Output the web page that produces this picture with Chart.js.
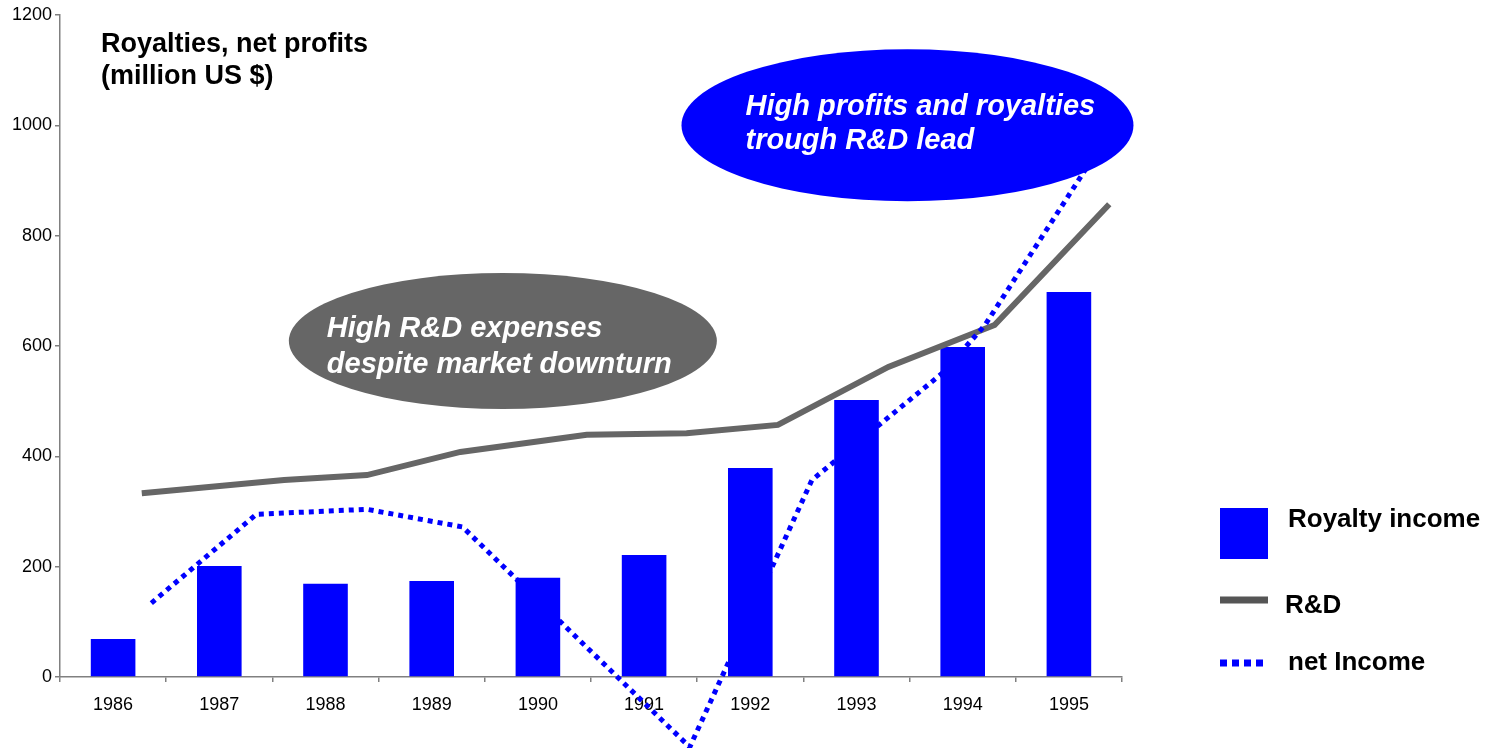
<!DOCTYPE html>
<html>
<head>
<meta charset="utf-8">
<script src="https://cdn.jsdelivr.net/npm/chart.js@4/dist/chart.umd.min.js"></script>
<style>
  html, body { margin: 0; padding: 0; background: #fff; }
  #wrap { width: 1495px; height: 748px; }
</style>
</head>
<body>
<div id="wrap"><canvas id="myChart" width="1495" height="748"></canvas></div>
<script>
const years = ["1986", "1987", "1988", "1989", "1990", "1991", "1992", "1993", "1994", "1995"];
const royaltyIncome = [69, 201, 169, 174, 180, 221, 379, 502, 598, 698];

// the two lines were drawn by hand over the bars, so their points sit between the year slots
const rdYears = [1986.27, 1987.61, 1988.39, 1989.27, 1990.46, 1991.40, 1992.26, 1993.30, 1994.30, 1995.38];
const rdValues = [333, 357, 366, 408, 439, 442, 457, 562, 638, 857];
const netYears = [1986.36, 1987.35, 1988.39, 1989.29, 1991.43, 1992.58, 1993.81, 1994.21, 1995.29];
const netValues = [134, 295, 304, 272, -127, 357, 551, 638, 960];

const yTicks = [0, 200, 400, 600, 800, 1000, 1200];

const FONT = "'Liberation Sans', Arial, sans-serif";

const pairs = (xs, ys) => xs.map((x, i) => ({ x: x, y: ys[i] }));

const overlay = {
    id: "overlay",
    afterDatasetsDraw(chart) {
        const ctx = chart.ctx;
        const xl = chart.scales.xl;
        const y = chart.scales.y;
        const area = chart.chartArea;

        // callouts
        const bubbles = [
            { x: 1989.67, y: 609, rx: 214, ry: 68, color: "#666666", dx: -176,
              lines: ["High R&D expenses", "despite market downturn"], dy: [-4, 32] },
            { x: 1993.48, y: 1000, rx: 226, ry: 76, color: "#0000ff", dx: -162,
              lines: ["High profits and royalties", "trough R&D lead"], dy: [-10, 24] },
        ];
        bubbles.forEach((b) => {
            const cx = xl.getPixelForValue(b.x);
            const cy = y.getPixelForValue(b.y);
            ctx.save();
            ctx.fillStyle = b.color;
            ctx.beginPath();
            ctx.ellipse(cx, cy, b.rx, b.ry, 0, 0, Math.PI * 2);
            ctx.fill();
            ctx.fillStyle = "#ffffff";
            ctx.font = "italic bold 29px " + FONT;
            ctx.textAlign = "left";
            ctx.textBaseline = "alphabetic";
            b.lines.forEach((t, i) => ctx.fillText(t, cx + b.dx, cy + b.dy[i]));
            ctx.restore();
        });

        // axis title inside the plot
        ctx.save();
        ctx.fillStyle = "#000";
        ctx.font = "bold 27px " + FONT;
        ctx.textAlign = "left";
        ctx.fillText("Royalties, net profits", area.left + 41, area.top + 37);
        ctx.fillText("(million US $)", area.left + 41, area.top + 69);
        ctx.restore();

        // legend
        const ds = chart.data.datasets;
        const lx = 1220;
        ctx.save();
        ctx.fillStyle = ds[0].backgroundColor;
        ctx.fillRect(lx, 508, 48, 51);

        ctx.strokeStyle = "#555555";
        ctx.lineWidth = 7;
        ctx.beginPath();
        ctx.moveTo(lx, 600);
        ctx.lineTo(lx + 48, 600);
        ctx.stroke();

        ctx.strokeStyle = ds[2].borderColor;
        ctx.setLineDash([7, 5]);
        ctx.beginPath();
        ctx.moveTo(lx, 663);
        ctx.lineTo(lx + 46, 663);
        ctx.stroke();
        ctx.setLineDash([]);

        ctx.fillStyle = "#000";
        ctx.font = "bold 26px " + FONT;
        ctx.fillText(ds[0].label, 1288, 527);
        ctx.fillText(ds[1].label, 1285, 613);
        ctx.fillText(ds[2].label, 1288, 670);
        ctx.restore();
    },
};

const ctx = document.getElementById("myChart");
const config = {
    type: "line",
    data: {
        labels: years,
        datasets: [
            {
                type: "bar",
                label: "Royalty income",
                data: royaltyIncome,
                backgroundColor: "#0000ff",
                barPercentage: 0.42,
                categoryPercentage: 1,
                grouped: false,
                xAxisID: "x",
                order: 2,
            },
            {
                type: "line",
                label: "R&D",
                data: pairs(rdYears, rdValues),
                borderColor: "#666666",
                borderWidth: 6,
                pointRadius: 0,
                tension: 0,
                xAxisID: "xl",
                order: 1,
                clip: false,
            },
            {
                type: "line",
                label: "net Income",
                data: pairs(netYears, netValues),
                borderColor: "#0000ff",
                borderWidth: 5,
                borderDash: [5, 5],
                borderCapStyle: "butt",
                pointRadius: 0,
                tension: 0,
                xAxisID: "xl",
                order: 0,
                clip: false,
            },
        ],
    },
    options: {
        responsive: false,
        animation: false,
        devicePixelRatio: 1,
        layout: {
            padding: { top: 15, right: 373, left: 0, bottom: 0 },
        },
        plugins: {
            legend: { display: false },
            tooltip: { enabled: false },
            title: { display: false },
        },
        scales: {
            x: {
                type: "category",
                offset: true,
                grid: {
                    offset: true,
                    drawOnChartArea: false,
                    tickLength: 5,
                    color: "#808080",
                    lineWidth: 1.5,
                },
                border: { color: "#808080", width: 1.5 },
                ticks: {
                    color: "#000",
                    font: { family: FONT, size: 18 },
                    padding: 12,
                    maxRotation: 0,
                },
                afterFit: (s) => { s.height = 71; },
            },
            xl: {
                type: "linear",
                display: false,
                offset: false,
                min: 1985.5,
                max: 1995.5,
            },
            y: {
                min: 0,
                max: 1200,
                afterBuildTicks: (s) => { s.ticks = yTicks.map((v) => ({ value: v })); },
                grid: {
                    drawOnChartArea: false,
                    tickLength: 5,
                    color: "#808080",
                    lineWidth: 1.5,
                },
                border: { color: "#808080", width: 1.5 },
                ticks: {
                    color: "#000",
                    font: { family: FONT, size: 18 },
                    padding: 3,
                    callback: (v) => String(v),
                },
                afterFit: (s) => { s.width = 60; },
            },
        },
    },
    plugins: [overlay],
};
const myChart = new Chart(ctx, config);
</script>
</body>
</html>
